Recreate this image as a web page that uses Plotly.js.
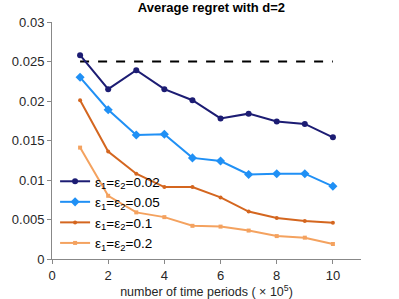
<!DOCTYPE html>
<html><head><meta charset="utf-8">
<script src="https://cdn.plot.ly/plotly-3.0.1.min.js"></script>
<style>html,body{margin:0;padding:0;background:#fff}#chart{width:399px;height:299px}</style>
</head><body><div id="chart"></div>
<script>
const periods = [1,2,3,4,5,6,7,8,9,10];
const regret002 = [0.0258,0.0215,0.0239,0.0215,0.0201,0.0178,0.0184,0.0174,0.0171,0.0154];
const regret005 = [0.0230,0.0189,0.0157,0.0158,0.0128,0.0124,0.0107,0.0108,0.0108,0.0092];
const regret01  = [0.0201,0.0136,0.0108,0.0091,0.0091,0.0078,0.0060,0.0052,0.0048,0.0046];
const regret02  = [0.0141,0.0080,0.0059,0.0053,0.0042,0.0041,0.0036,0.0029,0.0027,0.0019];
const boundX = [1,10];
const boundY = [0.025,0.025];
const labels = ['ε<sub>1</sub>=ε<sub>2</sub>=0.02','ε<sub>1</sub>=ε<sub>2</sub>=0.05','ε<sub>1</sub>=ε<sub>2</sub>=0.1','ε<sub>1</sub>=ε<sub>2</sub>=0.2'];
const xTicks = [0,2,4,6,8,10];
const yTicks = [0,0.005,0.01,0.015,0.02,0.025,0.03];
const yTickText = ['0','0.005','0.01','0.015','0.02','0.025','0.03'];

const traces = [
  {x: boundX, y: boundY, mode:'lines', line:{color:'#000', width:2, dash:'dash'}, showlegend:false, hoverinfo:'skip'},
  {x: periods, y: regret002, name: labels[0], mode:'lines+markers', line:{color:'#1c1c73', width:2}, marker:{symbol:'circle', size:6, color:'#1c1c73'}},
  {x: periods, y: regret005, name: labels[1], mode:'lines+markers', line:{color:'#2090f5', width:2}, marker:{symbol:'diamond', size:7, color:'#2090f5'}},
  {x: periods, y: regret01, name: labels[2], mode:'lines+markers', line:{color:'#d4661f', width:2}, marker:{symbol:'circle', size:4, color:'#d4661f'}},
  {x: periods, y: regret02, name: labels[3], mode:'lines+markers', line:{color:'#f4a25f', width:2}, marker:{symbol:'square', size:4, color:'#f4a25f'}}
];

const layout = {
  width:399, height:299,
  margin:{l:52, r:38, t:22, b:40},
  paper_bgcolor:'#fff', plot_bgcolor:'#fff',
  font:{family:'Liberation Sans, Arial, sans-serif', size:13, color:'#262626'},
  title:{text:'<b>Average regret with d=2</b>', x:0.53, xanchor:'center', y:0.99, yanchor:'top', font:{size:13, color:'#000'}},
  xaxis:{range:[0,11], tickvals:xTicks, ticktext:xTicks.map(String), showline:true, linecolor:'#888', linewidth:1,
    ticks:'outside', ticklen:4, tickcolor:'#888', showgrid:false, zeroline:false, tickfont:{size:13},
    title:{text:'number of time periods ( × 10<sup>5</sup>)', font:{size:12.5, color:'#262626'}, standoff:6}},
  yaxis:{range:[0,0.03], tickvals:yTicks, ticktext:yTickText, showline:true, linecolor:'#888', linewidth:1,
    ticks:'outside', ticklen:4, tickcolor:'#888', showgrid:false, zeroline:false, tickfont:{size:13}},
  legend:{x:0.01, y:0.0, xanchor:'left', yanchor:'bottom', bgcolor:'rgba(0,0,0,0)', borderwidth:0,
    font:{size:13.5, color:'#000'}, tracegroupgap:0, itemwidth:30},
  showlegend:true
};
Plotly.newPlot('chart', traces, layout, {staticPlot:true, displayModeBar:false});
</script></body></html>
